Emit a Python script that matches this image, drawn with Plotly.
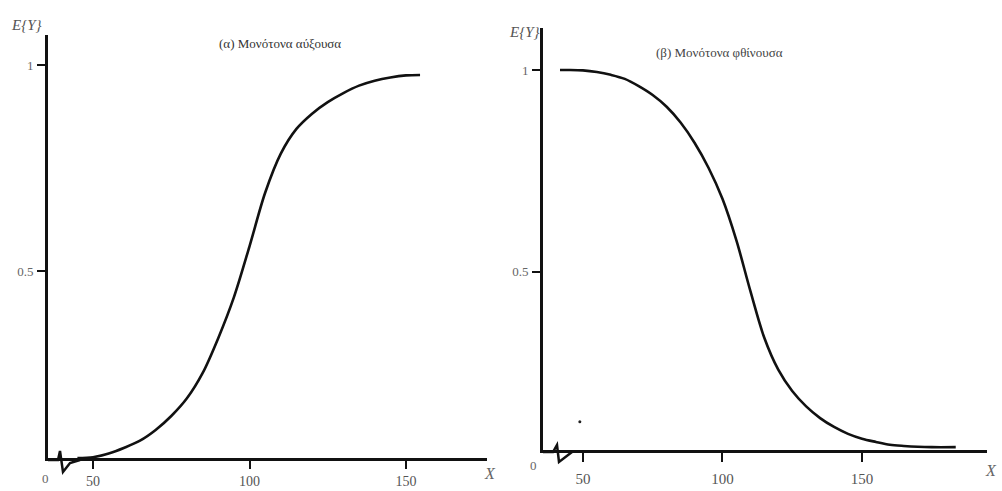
import plotly.graph_objects as go

# ---- data ----
inc_x = [45, 50, 55, 60, 65, 70, 75, 80, 85, 90, 95, 100, 105, 110, 115, 120, 125,
         130, 135, 140, 145, 150, 154.5]
inc_y = [0.046, 0.048, 0.057, 0.071, 0.088, 0.114, 0.148, 0.191, 0.252, 0.337, 0.436,
         0.560, 0.690, 0.785, 0.845, 0.882, 0.910, 0.932, 0.950, 0.962, 0.970, 0.975, 0.976]

dec_x = [41.8, 45, 50, 55, 60, 65, 70, 75, 80, 85, 90, 95, 100, 105, 110, 115, 120, 125,
         130, 135, 140, 145, 150, 155, 160, 165, 170, 175, 183.6]
dec_y = [1.000, 1.000, 0.999, 0.995, 0.988, 0.978, 0.960, 0.938, 0.909, 0.870, 0.820,
         0.758, 0.681, 0.578, 0.453, 0.337, 0.258, 0.205, 0.167, 0.138, 0.116, 0.099,
         0.087, 0.079, 0.072, 0.069, 0.067, 0.066, 0.066]

speck_x = [48.9]
speck_y = [0.129]

x_tickvals = [50, 100, 150]
x_ticktext = ["50", "100", "150"]
y_tickvals = [0.5, 1]
y_ticktext = ["0.5", "1"]

title_a = "(α) Μονότονα αύξουσα"
title_b = "(β) Μονότονα φθίνουσα"
ylab = "E{Y}"
xlab = "X"

W, H = 1002, 491
SERIF = "Liberation Serif"

def px(x):
    return x / W

def py(y):
    return 1 - y / H

fig = go.Figure()
fig.add_trace(go.Scatter(x=inc_x, y=inc_y, mode="lines",
                         line=dict(color="#111", width=2.6, shape="spline", smoothing=0.9),
                         xaxis="x", yaxis="y", showlegend=False))
fig.add_trace(go.Scatter(x=dec_x, y=dec_y, mode="lines",
                         line=dict(color="#111", width=2.6, shape="spline", smoothing=0.9),
                         xaxis="x2", yaxis="y2", showlegend=False))
fig.add_trace(go.Scatter(x=speck_x, y=speck_y, mode="markers", marker=dict(color="#222", size=3),
                         xaxis="x2", yaxis="y2", showlegend=False))

def xaxis_style(ticklen, standoff, size):
    return dict(showgrid=False, zeroline=False, showline=True, linecolor="#111", linewidth=3,
                ticks="outside", ticklen=ticklen, tickwidth=2, tickcolor="#111",
                tickvals=x_tickvals, ticktext=x_ticktext,
                tickfont=dict(family=SERIF, size=size, color="#555"), ticklabelstandoff=standoff,
                automargin=False)

ycommon = dict(showgrid=False, zeroline=False, showline=True, linecolor="#111", linewidth=3,
               ticks="outside", ticklen=8, tickwidth=2, tickcolor="#111",
               tickvals=y_tickvals, ticktext=y_ticktext,
               tickfont=dict(family=SERIF, size=13, color="#666"), ticklabelstandoff=1,
               automargin=False)

fig.update_layout(
    width=W, height=H,
    margin=dict(l=0, r=0, t=0, b=0),
    paper_bgcolor="white", plot_bgcolor="white",
    xaxis=dict(domain=[px(48), px(487)], range=[35.6, 175.9], anchor="y", **xaxis_style(8, 0, 14)),
    yaxis=dict(domain=[py(458), py(35)], range=[0.046, 1.073], anchor="x", **ycommon),
    xaxis2=dict(domain=[px(543), px(987)], range=[35.7, 194.8], anchor="y2", **xaxis_style(9, 4, 15)),
    yaxis2=dict(domain=[py(450), py(28)], range=[0.059, 1.104], anchor="x2", **ycommon),
)

ann = []
def note(text, x, y, size, color="#333", italic=False):
    t = f"<i>{text}</i>" if italic else text
    ann.append(dict(text=t, x=px(x), y=py(y), xref="paper", yref="paper", showarrow=False,
                    xanchor="center", yanchor="middle",
                    font=dict(family=SERIF, size=size, color=color)))

note(title_a, 280, 44, 13, "#333")
note(title_b, 719, 52, 13, "#444")
note(ylab, 26, 25, 15, "#555", italic=True)
note(ylab, 524, 32, 15, "#555", italic=True)
note(xlab, 490, 473, 16, "#666", italic=True)
note(xlab, 991, 470, 16, "#666", italic=True)
note("0", 45, 478, 13, "#666")
note("0", 533, 465, 13, "#666")
fig.update_layout(annotations=ann)

def path(points):
    return "M " + " L ".join(f"{px(a):.5f},{py(b):.5f}" for a, b in points)

shapes = [
    dict(type="path", xref="paper", yref="paper",
         path=path([(48, 460), (58, 460), (60, 451), (63, 472), (70, 463), (80, 460)]),
         line=dict(color="#111", width=2.5)),
    dict(type="path", xref="paper", yref="paper",
         path=path([(543, 452), (553, 452), (557, 445), (559, 462), (572, 452)]),
         line=dict(color="#111", width=2.5)),
]
fig.update_layout(shapes=shapes)

fig.write_html("out.html",
               config={"displayModeBar": False},
               post_script="document.body.style.margin='0';document.body.style.overflow='hidden';")
